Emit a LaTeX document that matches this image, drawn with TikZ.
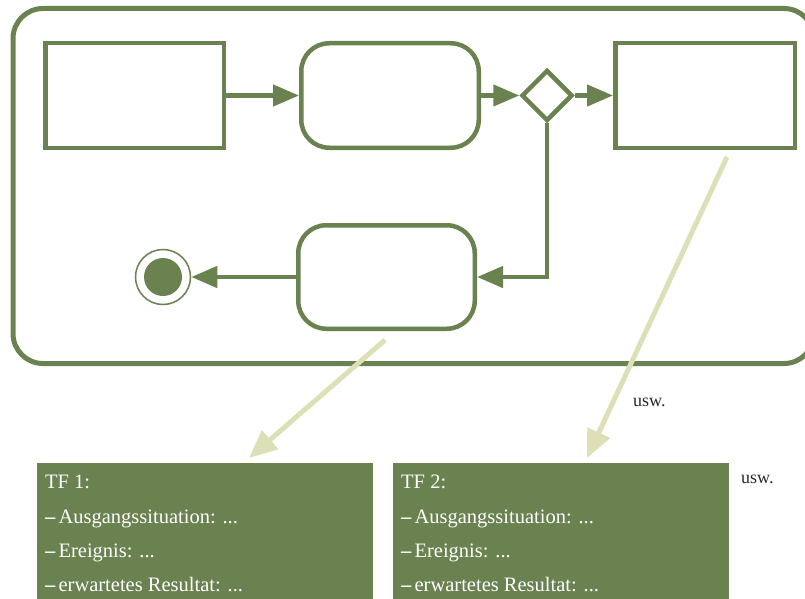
\documentclass[tikz,border=0pt]{standalone}
\usepackage{fontspec}
\setmainfont{Liberation Serif}
\usetikzlibrary{arrows.meta,shapes.geometric}
\definecolor{fgreen}{RGB}{106,129,80}
\definecolor{beige}{RGB}{221,224,182}
\definecolor{uswgray}{RGB}{40,40,40}
\newcommand{\tfdash}{\textbf{–}\hspace{3pt}}
\tikzset{
  framebox/.style={draw=fgreen, line width=5pt, rounded corners=30pt, inner sep=0pt},
  rectbox/.style={draw=fgreen, line width=4.5pt, inner sep=0pt, minimum width=178.5pt, minimum height=104.5pt},
  roundbox/.style={rectbox, rounded corners=28pt},
  decision/.style={diamond, draw=fgreen, line width=4.5pt, inner sep=0pt, minimum width=51pt, minimum height=51pt},
  flow/.style={draw=fgreen, line width=4.5pt, -{Triangle[length=26pt,width=21pt]}},
  link/.style={draw=beige, line width=5pt, -{Triangle[length=28pt,width=24pt]}},
  tfbox/.style={fill=fgreen, draw=none, inner sep=0pt, anchor=north west},
  tftext/.style={anchor=base west, inner sep=0pt, text=white, font=\fontsize{20.5}{24}\selectfont},
  usw/.style={anchor=base west, inner sep=0pt, text=uswgray, font=\fontsize{18}{21}\selectfont}
}
\begin{document}
\begin{tikzpicture}[x=1pt,y=-1pt]
\useasboundingbox (0,0) rectangle (805,599);
\clip (0,0) rectangle (805,599);
% container
\node[framebox, minimum width=801pt, minimum height=355pt] (frame) at (413.5,186) {};
% states
\node[rectbox] (b1) at (134.5,95.5) {};
\node[roundbox, minimum width=177.5pt] (b2) at (390,95.5) {};
\node[decision] (dia) at (547,95.5) {};
\node[rectbox, minimum width=179.5pt] (b3) at (705,95.5) {};
\node[roundbox, minimum width=176.5pt, minimum height=103.5pt] (b4) at (386.5,277) {};
\node[circle, draw=fgreen, line width=1.5pt, minimum size=55pt, inner sep=0pt] (end) at (163,277) {};
\node[circle, fill=fgreen, minimum size=38pt, inner sep=0pt] (endin) at (163,277) {};
% transitions
\draw[flow] (b1.east) -- (b2.west);
\draw[flow] (b2.east) -- (dia.west);
\draw[flow] (dia.east) -- (b3.west);
\draw[flow] (dia.south) |- (b4.east);
\draw[flow] (b4.west) -- (end.east);
% test case boxes
\node[tfbox, minimum width=336pt, minimum height=150pt] (tf1) at (37,463) {};
\node[tfbox, minimum width=336pt, minimum height=150pt] (tf2) at (393,463) {};
\node[tftext] (t1a) at (45,488) {TF 1:};
\node[tftext] (t1b) at (45,523) {\tfdash Ausgangssituation: ...};
\node[tftext] (t1c) at (45,557) {\tfdash Ereignis: ...};
\node[tftext] (t1d) at (45,591) {\tfdash erwartetes Resultat: ...};
\node[tftext] (t2a) at (401,488) {TF 2:};
\node[tftext] (t2b) at (401,523) {\tfdash Ausgangssituation: ...};
\node[tftext] (t2c) at (401,557) {\tfdash Ereignis: ...};
\node[tftext] (t2d) at (401,591) {\tfdash erwartetes Resultat: ...};
\node[usw] (u1) at (633,406) {usw.};
\node[usw] (u2) at (741,483) {usw.};
% links to test cases
\coordinate (s1) at (385,340);
\coordinate (e1) at (249,458);
\coordinate (s2) at (727,157);
\coordinate (e2) at (587,458);
\draw[link] (s1) -- (e1);
\draw[link] (s2) -- (e2);
\end{tikzpicture}
\end{document}
